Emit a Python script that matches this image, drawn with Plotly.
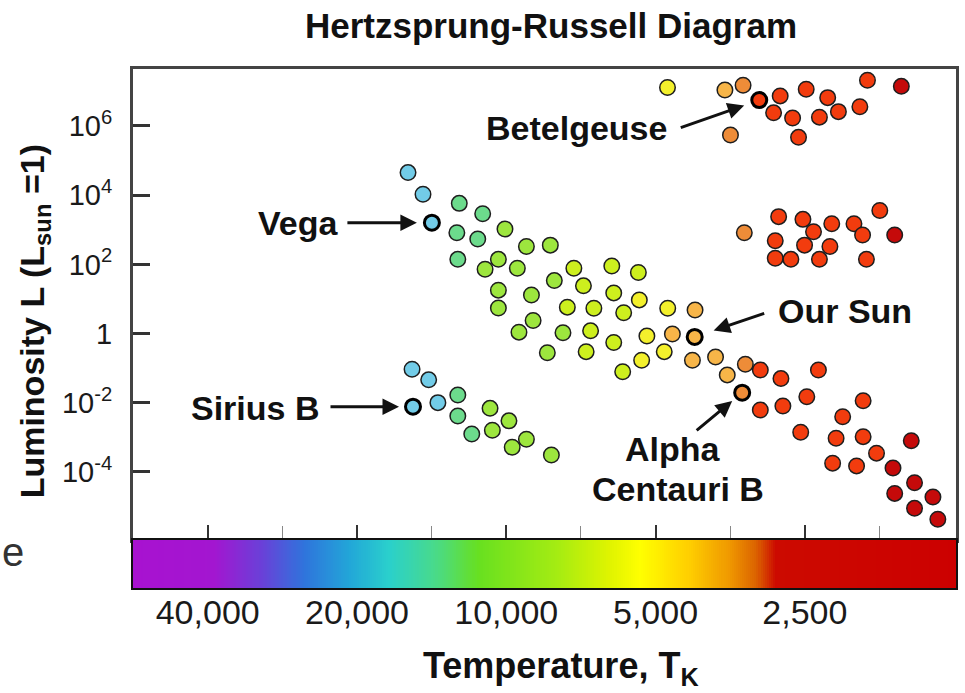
import numpy as np
import plotly.graph_objects as go

# ---------------- data ----------------
# Main sequence stars: temperature (K), luminosity (L_sun)
ms_temp = [15780, 14720, 12438, 11157, 10060, 12579, 11416, 9107, 8150, 12523,
           10373, 11034, 9499, 10373, 8897, 10373, 7306, 6126, 5415, 8000,
           6988, 6071, 5391, 7531, 6658, 5797, 4725, 4162, 8828, 9427,
           7685, 6760, 6071, 5205, 4624, 8264, 6901, 5333, 4802, 4213,
           5824, 3784, 3295, 3584, 3074, 2793, 2347, 3074, 2768, 2477,
           1907, 2097, 2548, 2162, 1907, 1525, 1792, 2197, 1966, 1660,
           1502, 1647, 1379, 1502, 1348]
ms_lum = [4.5e4, 1.06e4, 5.8e3, 2.9e3, 1.05e3, 820, 540, 330, 360, 140,
          140, 72, 77, 18, 13, 5.5, 77, 90, 58, 34,
          24, 15, 9.4, 5.8, 5.4, 4.0, 5.4, 4.8, 2.4, 1.1,
          1.06, 1.2, 0.55, 0.85, 0.97, 0.28, 0.30, 0.17, 0.30, 0.17,
          0.079, 0.21, 0.13, 0.064, 0.089, 0.050, 0.089, 6.2e-3, 8.1e-3, 0.015,
          0.0115, 3.96e-3, 1.4e-3, 9.4e-4, 1.05e-3, 8.0e-4, 3.5e-4, 1.8e-4, 1.5e-4, 1.3e-4,
          4.9e-5, 2.4e-5, 1.9e-5, 8.9e-6, 4.3e-6]

# Giants
giant_temp = [3311, 2823, 2522, 2401, 2206, 1990, 1765, 1912, 1647, 2868,
              2503, 2225, 2868, 2667, 2336, 1878]
giant_lum = [820, 2400, 2000, 880, 1500, 1500, 3600, 710, 710, 480,
             360, 330, 150, 140, 140, 140]

# Supergiants
sg_temp = [4730, 3623, 3330, 2803, 2484, 2248, 1869, 1597, 2890, 2646,
           2336, 2139, 1936, 2574, 3531]
sg_lum = [1.3e7, 1.1e7, 1.5e7, 7.4e6, 1.15e7, 6.6e6, 2.1e7, 1.4e7, 2.4e6, 1.7e6,
          1.8e6, 2.6e6, 3.6e6, 4.7e5, 5.5e5]

# White dwarfs
wd_temp = [15488, 14337, 13736, 12523, 12523, 11737, 10782, 10667, 9876, 9728,
           9107, 8110]
wd_lum = [0.093, 0.046, 0.0101, 0.0168, 4.15e-3, 1.25e-3, 6.9e-3, 1.6e-3, 3.0e-3, 5.2e-4,
          8.8e-4, 3.1e-4]

# Highlighted stars
named_stars = ["Vega", "Sirius B", "Betelgeuse", "Our Sun", "Alpha Centauri B"]
named_temp = [14124, 15420, 3089, 4169, 3344]
named_lum = [1600, 7.7e-3, 5.6e6, 0.8, 0.0196]

# Axis ticks
temp_ticks = [40000, 20000, 10000, 5000, 2500]
temp_ticktext = ["40,000", "20,000", "10,000", "5,000", "2,500"]
temp_minor = [28284, 14142, 7071, 3536, 1768]
lum_ticks = [1e6, 1e4, 1e2, 1, 1e-2, 1e-4]
lum_ticktext = ["10<sup>6</sup>", "10<sup>4</sup>", "10<sup>2</sup>", "1",
                "10<sup>-2</sup>", "10<sup>-4</sup>"]

# ---------------- styling ----------------
FONT = "Liberation Sans, Arial, Helvetica, sans-serif"


def star_color(t):
    if t >= 13000:
        return "#72cce8"
    if t >= 11100:
        return "#6cdb8c"
    if t >= 7550:
        return "#9de63e"
    if t >= 5400:
        return "#cdef1e"
    if t >= 4650:
        return "#f3f02c"
    if t >= 3550:
        return "#f7b548"
    if t >= 3150:
        return "#ee8c38"
    if t >= 1700:
        return "#f23c0e"
    return "#c50a0a"


X_RANGE = [np.log10(56588), np.log10(1239)]
Y_RANGE = [-5.966, 7.647]
BAR_FRAC = 48 / 519

fig = go.Figure()

# temperature colour bar (gradient strip)
bar_stops = [
    (0.000, "#a812d0"), (0.099, "#a316d0"), (0.156, "#6a40d8"), (0.208, "#2f74dc"),
    (0.263, "#22a6d8"), (0.311, "#2ad0cc"), (0.366, "#48da8c"), (0.420, "#68e020"),
    (0.517, "#a6ec12"), (0.580, "#e0f400"), (0.616, "#ffff00"), (0.674, "#ffd000"),
    (0.723, "#f09a00"), (0.757, "#dc6400"), (0.781, "#cc0a00"), (1.000, "#cc0000"),
]
ncol = 400
edges = np.logspace(X_RANGE[0], X_RANGE[1], ncol + 1)
zrow = [(i + 0.5) / ncol for i in range(ncol)]
fig.add_trace(go.Heatmap(
    x=edges, y=[0, 1], z=[zrow], zmin=0, zmax=1,
    colorscale=[list(s) for s in bar_stops], showscale=False,
    hoverinfo="skip", xaxis="x2", yaxis="y2",
))

marker_line = dict(color="#1e1e1e", width=1.5)
for temps, lums, name in [(ms_temp, ms_lum, "Main sequence"),
                          (giant_temp, giant_lum, "Giants"),
                          (sg_temp, sg_lum, "Supergiants"),
                          (wd_temp, wd_lum, "White dwarfs")]:
    fig.add_trace(go.Scatter(
        x=temps, y=lums, mode="markers", name=name,
        marker=dict(size=15.5, color=[star_color(t) for t in temps], line=marker_line),
        xaxis="x", yaxis="y", showlegend=False,
    ))

fig.add_trace(go.Scatter(
    x=named_temp, y=named_lum, mode="markers", text=named_stars,
    marker=dict(size=15, color=[star_color(t) for t in named_temp],
                line=dict(color="#000000", width=3)),
    xaxis="x", yaxis="y", showlegend=False,
))

# ---------------- annotations ----------------
def px_to_paper(px, py):
    return (px - 133) / 826, (588 - py) / 519


annotations = []
label_font = dict(family=FONT, size=34, color="#111111")

# arrows (tail offsets in pixels relative to each star)
arrow_specs = {
    "Vega": (-86, 0, 15),
    "Sirius B": (-84, 0, 14),
    "Betelgeuse": (-80, 28, 16),
    "Our Sun": (71, -24, 20),
    "Alpha Centauri B": (-47, 39, 13),
}
for nm, t, l in zip(named_stars, named_temp, named_lum):
    ax, ay, so = arrow_specs[nm]
    annotations.append(dict(
        x=np.log10(t), y=np.log10(l), xref="x", yref="y", text="",
        showarrow=True, ax=ax, ay=ay, axref="pixel", ayref="pixel",
        arrowhead=2, arrowsize=1.1, arrowwidth=3, arrowcolor="#111111",
        standoff=so,
    ))

text_labels = [
    ("Vega", 298.5, 223),
    ("Betelgeuse", 578.5, 128),
    ("Our Sun", 847.5, 310.5),
    ("Sirius B", 255, 408),
    ("Alpha", 674.5, 449),
    ("Centauri B", 679.5, 489.5),
]
for txt, px, py in text_labels:
    xp, yp = px_to_paper(px, py)
    annotations.append(dict(x=xp, y=yp, xref="paper", yref="paper",
                            text=f"<b>{txt}</b>", showarrow=False,
                            xanchor="center", yanchor="middle", font=label_font))

# title
xp, yp = px_to_paper(553, 26)
annotations.append(dict(x=xp, y=yp, xref="paper", yref="paper",
                        text="<b>Hertzsprung-Russell Diagram</b>", showarrow=False,
                        xanchor="center", yanchor="middle",
                        font=dict(family=FONT, size=35, color="#111111")))
# y title
xp, yp = px_to_paper(34, 321)
annotations.append(dict(x=xp, y=yp, xref="paper", yref="paper",
                        text="<b>Luminosity L (L<sub>sun</sub> =1)</b>", showarrow=False,
                        textangle=-90, xanchor="center", yanchor="middle",
                        font=dict(family=FONT, size=34, color="#111111")))
# x title
xp, yp = px_to_paper(563, 668)
annotations.append(dict(x=xp, y=yp, xref="paper", yref="paper",
                        text="<b>Temperature, T<sub>K</sub></b>", showarrow=False,
                        xanchor="center", yanchor="middle",
                        font=dict(family=FONT, size=36, color="#111111")))
# stray cropped text at the left edge
xp, yp = px_to_paper(0, 552)
annotations.append(dict(x=xp, y=yp, xref="paper", yref="paper",
                        text="e", showarrow=False,
                        xanchor="left", yanchor="middle",
                        font=dict(family=FONT, size=40, color="#333333")))

fig.update_layout(
    width=965, height=693,
    margin=dict(l=133, r=6, t=69, b=105, pad=0),
    paper_bgcolor="white", plot_bgcolor="white",
    showlegend=False,
    font=dict(family=FONT, color="#111111"),
    annotations=annotations,
    xaxis=dict(
        type="log", range=X_RANGE, domain=[0, 1], anchor="y",
        showline=True, mirror=True, linecolor="#444444", linewidth=3,
        ticks="inside", tickmode="array", tickvals=temp_ticks,
        ticklen=15, tickwidth=2, tickcolor="#333333",
        showticklabels=False, showgrid=False, zeroline=False,
        minor=dict(tickmode="array", tickvals=temp_minor, ticks="inside",
                   ticklen=14, tickwidth=1, tickcolor="#888888", showgrid=False),
    ),
    yaxis=dict(
        type="log", range=Y_RANGE, domain=[BAR_FRAC, 1], anchor="x",
        showline=True, mirror=True, linecolor="#444444", linewidth=3,
        ticks="inside", tickmode="array", tickvals=lum_ticks, ticktext=lum_ticktext,
        ticklen=17, tickwidth=2.5, tickcolor="#333333",
        tickfont=dict(family=FONT, size=29, color="#1a1a1a"),
        ticklabelstandoff=12, showgrid=False, zeroline=False,
    ),
    xaxis2=dict(
        type="log", range=X_RANGE, domain=[0, 1], anchor="y2",
        showline=True, mirror=True, linecolor="#111111", linewidth=2,
        ticks="", tickmode="array", tickvals=temp_ticks, ticktext=temp_ticktext,
        tickfont=dict(family=FONT, size=34, color="#1a1a1a"),
        ticklabelstandoff=-7, showgrid=False, zeroline=False,
    ),
    yaxis2=dict(
        range=[0, 1], domain=[0, BAR_FRAC], anchor="x2",
        showline=True, mirror=True, linecolor="#111111", linewidth=2,
        showticklabels=False, ticks="", showgrid=False, zeroline=False,
    ),
)

fig.write_html("out.html")
